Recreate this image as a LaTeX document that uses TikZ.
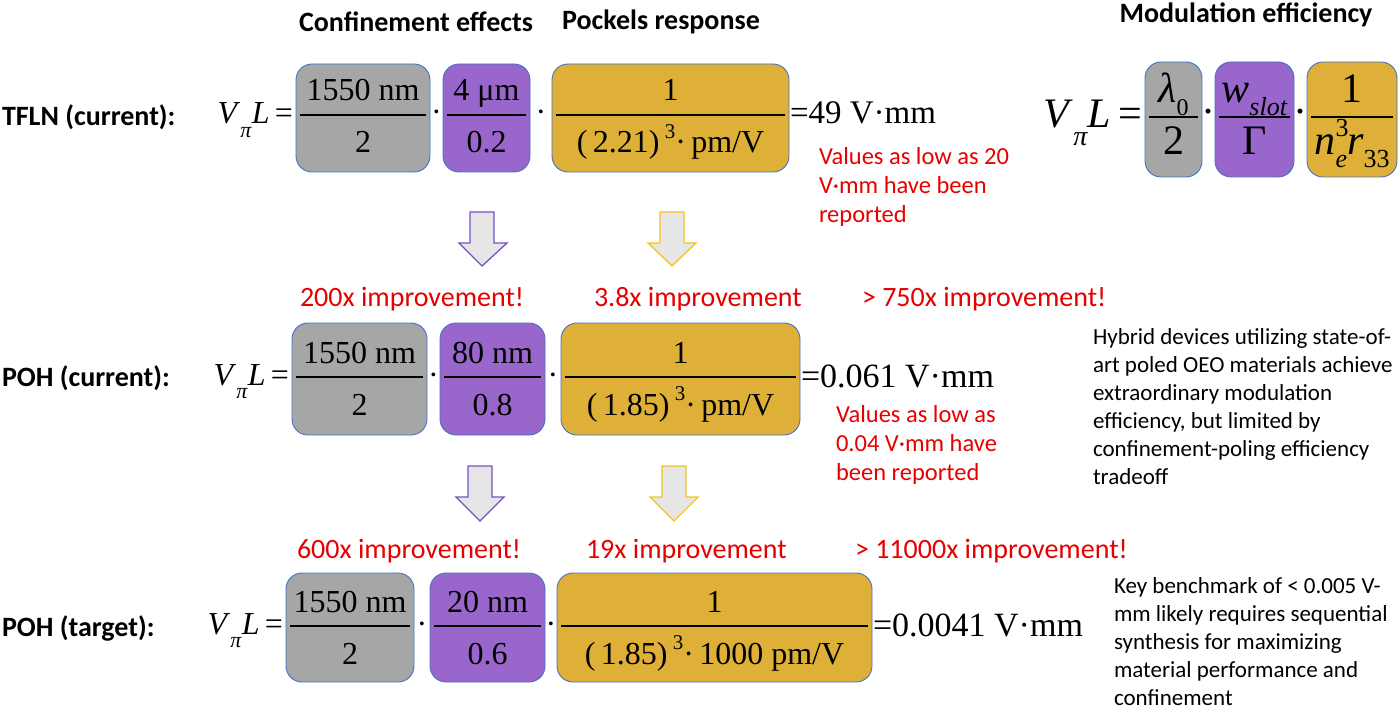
\documentclass[tikz,border=0pt]{standalone}
\usepackage{fontspec}
\setmainfont{Liberation Serif}
\newfontfamily\calibri{Carlito}
\usetikzlibrary{positioning}
\definecolor{boxgray}{RGB}{166,166,166}
\definecolor{boxpurple}{RGB}{153,102,204}
\definecolor{boxgold}{RGB}{222,176,56}
\definecolor{boxline}{RGB}{68,114,196}
\definecolor{notered}{RGB}{230,0,0}
\definecolor{arrowfill}{RGB}{230,230,230}
\definecolor{arrowpurple}{RGB}{120,80,200}
\definecolor{arrowgold}{RGB}{245,195,30}
% one box with a fraction: name, style, left, right, top, bottom, bar, numerator, denominator
\newcommand{\fracbox}[9]{%
  \node[#2, minimum width=#4pt-#3pt, minimum height=#6pt-#5pt] (#1) at ({(#3+#4)/2},{(#5+#6)/2}) {};
  \draw[fracbar] (#3+4,#7) -- (#4-4,#7);
  \node[anchor=base] (#1-num) at ({(#3+#4)/2},#7-14) {#8};
  \node[anchor=base] (#1-den) at ({(#3+#4)/2},#7+38) {#9};
}
\begin{document}
\begin{tikzpicture}[x=1pt, y=-1pt, inner sep=0pt, outer sep=0pt,
    box/.style = {draw=boxline, line width=0.9pt, rounded corners=16pt},
    graybox/.style = {box, fill=boxgray},
    purplebox/.style = {box, fill=boxpurple},
    goldbox/.style = {box, fill=boxgold},
    fracbar/.style = {line width=2.4pt},
    eqn/.style = {font=\fontsize{32}{36}\selectfont},
    bigeqn/.style = {font=\fontsize{42}{46}\selectfont},
    result/.style = {font=\fontsize{34}{38}\selectfont, anchor=base west},
    head/.style = {font=\calibri\bfseries\fontsize{28}{32}\selectfont},
    rowlabel/.style = {font=\calibri\bfseries\fontsize{28}{32}\selectfont, anchor=west},
    gain/.style = {font=\calibri\fontsize{28}{32}\selectfont, text=notered, anchor=west},
    rednote/.style = {font=\calibri\fontsize{24.5}{29}\selectfont, text=notered, anchor=north west, align=left},
    sidenote/.style = {font=\calibri\fontsize{23}{28}\selectfont, anchor=north west, align=left},
    purparrow/.style = {draw=arrowpurple, fill=arrowfill, line width=1.3pt},
    goldarrow/.style = {draw=arrowgold, fill=arrowfill, line width=1.3pt}]
\useasboundingbox (0,0) rectangle (1400,711);

% column headings
\node[head] (hconf) at (416,22) {Confinement effects};
\node[head] (hpock) at (661,22) {Pockels response};
\node[head] (hmod) at (1246,15) {Modulation efficiency};

% TFLN (current)
\node[rowlabel] (tfln) at (2,117) {TFLN (current):};
\begin{scope}[eqn]
\node[anchor=base east] (vl1) at (293,124) {\textit{V}\raisebox{-0.42em}{\fontsize{22}{22}\selectfont\textit{π}}\textit{L}\,=};
\fracbox{g1}{graybox}{296}{430}{64}{172}{115}{1550 nm}{2}
\fracbox{p1}{purplebox}{443}{530}{64}{172}{115}{4 μm}{0.2}
\fracbox{y1}{goldbox}{552}{789}{64}{172}{115}{1}{(\,2.21)\,\raisebox{0.45em}{\fontsize{21}{21}\selectfont 3}·\,pm/V}
\node[anchor=base] at (436.5,123) {·};
\node[anchor=base] at (541,123) {·};
\end{scope}
\node[result, font=\fontsize{33}{38}\selectfont] (r1) at (790,124) {=49 V·mm};
\node[rednote] (n1) at (819,147) {Values as low as 20\\V·mm have been\\reported};

% arrows TFLN -> POH (current)
\draw[purparrow] (470,212) -- (494,212) -- (494,243) -- (507,243) -- (482,266) -- (459,243) -- (470,243) -- cycle;
\draw[goldarrow] (660,212) -- (684,212) -- (684,243) -- (696,243) -- (672,266) -- (648,243) -- (660,243) -- cycle;
\node[gain] (gc1) at (300,299) {200x improvement!};
\node[gain] (gp1) at (594,299) {3.8x improvement};
\node[gain] (gt1) at (862,299) {> 750x improvement!};

% POH (current)
\node[rowlabel] (pohc) at (2,378) {POH (current):};
\begin{scope}[eqn]
\node[anchor=base east] (vl2) at (289,385) {\textit{V}\raisebox{-0.42em}{\fontsize{22}{22}\selectfont\textit{π}}\textit{L}\,=};
\fracbox{g2}{graybox}{292}{427}{323}{435}{377}{1550 nm}{2}
\fracbox{p2}{purplebox}{440}{545}{323}{435}{377}{80 nm}{0.8}
\fracbox{y2}{goldbox}{561}{800}{323}{435}{377}{1}{(\,1.85)\,\raisebox{0.45em}{\fontsize{21}{21}\selectfont 3}·\,pm/V}
\node[anchor=base] at (433.5,385) {·};
\node[anchor=base] at (553,385) {·};
\end{scope}
\node[result] (r2) at (801,387) {=0.061 V·mm};
\node[rednote] (n2) at (836,405) {Values as low as\\0.04 V·mm have\\been reported};
\node[sidenote] (hyb) at (1093,329) {Hybrid devices utilizing state-of-\\art poled OEO materials achieve\\extraordinary modulation\\efficiency, but limited by\\confinement-poling efficiency\\tradeoff};

% arrows POH (current) -> POH (target)
\draw[purparrow] (468,466) -- (492,466) -- (492,497) -- (504,497) -- (480,521) -- (456,497) -- (468,497) -- cycle;
\draw[goldarrow] (662,466) -- (686,466) -- (686,497) -- (698,497) -- (674,521) -- (650,497) -- (662,497) -- cycle;
\node[gain] (gc2) at (297,551) {600x improvement!};
\node[gain] (gp2) at (586,551) {19x improvement};
\node[gain] (gt2) at (855,551) {> 11000x improvement!};

% POH (target)
\node[rowlabel] (poht) at (2,628) {POH (target):};
\begin{scope}[eqn]
\node[anchor=base east] (vl3) at (283,634) {\textit{V}\raisebox{-0.42em}{\fontsize{22}{22}\selectfont\textit{π}}\textit{L}\,=};
\fracbox{g3}{graybox}{286}{414}{573}{682}{626}{1550 nm}{2}
\fracbox{p3}{purplebox}{430}{545}{573}{682}{626}{20 nm}{0.6}
\fracbox{y3}{goldbox}{557}{872}{573}{682}{626}{1}{(\,1.85)\,\raisebox{0.45em}{\fontsize{21}{21}\selectfont 3}·\,1000 pm/V}
\node[anchor=base] at (422,634) {·};
\node[anchor=base] at (551,634) {·};
\end{scope}
\node[result] (r3) at (873,636) {=0.0041 V·mm};
\node[sidenote] (key) at (1114,578) {Key benchmark of < 0.005 V-\\mm likely requires sequential\\synthesis for maximizing\\material performance and\\confinement};

% general formula
\begin{scope}[bigeqn]
\node[anchor=base east] (vlg) at (1142,128) {\textit{V}\raisebox{-0.42em}{\fontsize{28}{28}\selectfont\textit{π}}\textit{L}\,=};
\fracbox{gg}{graybox}{1145}{1202}{62}{177}{117}{\textit{λ}\raisebox{-0.3em}{\fontsize{24}{24}\selectfont 0}}{2}
\fracbox{pg}{purplebox}{1215}{1294}{62}{177}{117}{\textit{w}\raisebox{-0.3em}{\fontsize{26}{26}\selectfont\textit{slot}}}{Γ}
\fracbox{yg}{goldbox}{1307}{1397}{62}{177}{117}{1}{\textit{n}\rlap{\raisebox{0.45em}{\fontsize{26}{26}\selectfont 3}}\raisebox{-0.3em}{\fontsize{26}{26}\selectfont\textit{e}}\textit{r}\raisebox{-0.3em}{\fontsize{26}{26}\selectfont 33}}
\node[anchor=base] at (1208.5,126) {·};
\node[anchor=base] at (1300.5,126) {·};
\end{scope}
\end{tikzpicture}
\end{document}
